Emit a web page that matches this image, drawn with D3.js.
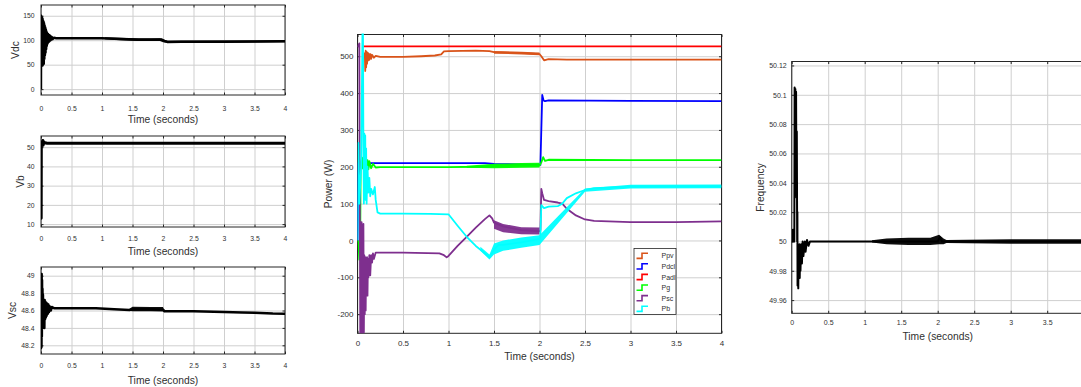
<!DOCTYPE html>
<html>
<head>
<meta charset="utf-8">
<script src="https://cdn.jsdelivr.net/npm/d3@7"></script>
<style>
  body { margin: 0; background: #fff; }
  svg { display: block; font-family: "Liberation Sans", Arial, Helvetica, sans-serif; }
</style>
</head>
<body>
<script>
// ---------- tick values and labels ----------
const timeTicks = [0, 0.5, 1, 1.5, 2, 2.5, 3, 3.5, 4];
const timeTickLabels = ["0", "0.5", "1", "1.5", "2", "2.5", "3", "3.5", "4"];
// the frequency axis runs past the right edge of the figure, so its last label is left out
const freqTimeTickLabels = ["0", "0.5", "1", "1.5", "2", "2.5", "3", "3.5", ""];
const vdcTicks = [0, 50, 100, 150];
const vbTicks = [10, 20, 30, 40, 50];
const vscTicks = [48.2, 48.4, 48.6, 48.8, 49];
const vscTickLabels = ["48.2", "48.4", "48.6", "48.8", "49"];
const powerTicks = [-200, -100, 0, 100, 200, 300, 400, 500];
const freqTicks = [49.96, 49.98, 50, 50.02, 50.04, 50.06, 50.08, 50.1, 50.12];
const freqTickLabels = ["49.96", "49.98", "50", "50.02", "50.04", "50.06", "50.08", "50.1", "50.12"];

// ---------- DC-link voltage (V) : [time s, value] ----------
const vdc = [[0,0],[0.002,150],[0.006,48],[0.010,148],[0.014,50],[0.018,146],[0.022,48],[0.026,144],
  [0.030,50],[0.034,140],[0.038,55],[0.042,138],[0.046,52],[0.050,135],[0.055,62],[0.060,130],
  [0.065,70],[0.070,126],[0.075,75],[0.080,122],[0.085,82],[0.090,118],[0.095,88],[0.100,115],
  [0.108,93],[0.116,113],[0.124,96],[0.132,111],[0.140,98],[0.150,109],[0.160,100],[0.175,107],
  [0.19,102],[0.21,105],[0.25,104],[0.5,104],[0.8,104],[1.0,104],[1.2,103],[1.4,102],[1.6,101],
  [1.8,101],[1.98,101.5],[2.03,98],[2.07,96.5],[2.3,97],[2.6,97],[3.0,97],[3.5,97.5],[4,98]];
// ripple envelope: [time, low, high]
const vdcRipple = [[1.05,102,106],[1.3,100,105],[1.6,98.5,104],[1.95,98.5,104],[2.0,96,102],
  [2.08,94.5,99],[3,94.8,99.2],[3.5,95.5,99.5],[4,95.8,100]];

// ---------- battery voltage (V) ----------
const vb = [[0,13],[0.003,13],[0.005,52],[0.02,52.5],[0.03,53.5],[0.035,51],[0.04,53],[0.05,52],
  [0.08,52.3],[0.1,52],[1,52],[2,52],[3,52],[4,52]];

// ---------- supercapacitor voltage (V) ----------
const vsc = [[0,48.6],[0.002,48.17],[0.005,49.0],[0.008,48.18],[0.011,49.02],[0.014,48.3],
  [0.017,48.95],[0.020,48.4],[0.024,48.85],[0.028,48.45],[0.032,48.78],[0.036,48.42],[0.040,48.72],
  [0.045,48.48],[0.050,48.70],[0.055,48.40],[0.060,48.72],[0.066,48.50],[0.072,48.70],[0.078,48.52],
  [0.085,48.69],[0.092,48.54],[0.100,48.68],[0.110,48.56],[0.120,48.67],[0.130,48.58],[0.140,48.65],
  [0.160,48.60],[0.180,48.64],[0.22,48.625],[0.5,48.625],[0.9,48.625],[1.2,48.615],[1.45,48.605],
  [1.5,48.615],[1.8,48.615],[2.0,48.61],[2.03,48.59],[2.5,48.59],[3.0,48.583],[3.3,48.578],
  [3.5,48.575],[3.8,48.565],[4,48.562]];
const vscRipple = [[1.45,48.597,48.62],[1.5,48.59,48.642],[1.8,48.59,48.64],[2.0,48.588,48.64],
  [2.02,48.575,48.6]];

// ---------- power flows (W) ----------
const ppv = [[0.08,510],[0.085,460],[0.09,515],[0.095,470],[0.10,512],[0.105,480],[0.11,510],
  [0.115,488],[0.12,508],[0.13,490],[0.14,506],[0.15,493],[0.16,504],[0.18,496],[0.2,501],
  [0.25,498],[0.5,498],[0.7,500],[0.85,502],[0.92,505],[0.95,513],[1.0,514],[1.3,515],[1.45,514],
  [1.5,511],[1.8,509],[2.0,506],[2.02,500],[2.05,489],[2.1,492],[2.3,491],[3,491],[4,491]];
const ppvRipple = [[1.5,507,514],[1.8,505,512],[2.0,503,510]];

const pdcl = [[0,0],[0.01,210],[0.2,210],[0.5,210],[1.0,210],[1.4,210],[1.5,208],[2.0,205],
  [2.01,205],[2.03,395],[2.045,380],[2.06,378],[2.1,380],[3,379],[4,378]];

const padl = [[0.05,527],[1,527],[2,527],[3,527],[4,527]];

const pg = [[0,0],[0.01,-5],[0.02,-52],[0.03,0],[0.035,210],[0.05,225],[0.06,195],[0.07,222],
  [0.08,188],[0.09,222],[0.1,190],[0.11,218],[0.12,193],[0.13,215],[0.15,196],[0.17,208],
  [0.2,198],[0.25,199],[0.5,199],[1.0,199],[1.3,200],[1.5,202],[1.8,203],[2.0,203],[2.02,212],
  [2.04,226],[2.06,216],[2.1,219],[3,218],[4,218]];
const pgRipple = [[1.2,197,203],[1.5,196,208],[1.8,197,210],[2.0,198,211]];

const psc = [[0,525],[0.02,535],[0.03,-255],[0.035,40],[0.04,-255],[0.045,50],[0.05,-255],
  [0.055,-20],[0.06,-255],[0.065,45],[0.07,-250],[0.075,-40],[0.08,-200],[0.085,-45],[0.09,-190],
  [0.095,-50],[0.1,-145],[0.105,-45],[0.11,-150],[0.115,-50],[0.12,-100],[0.13,-40],[0.14,-95],
  [0.15,-40],[0.16,-60],[0.17,-35],[0.18,-50],[0.2,-33],[0.5,-33],[0.9,-35],[0.95,-40],[0.98,-46],
  [1.0,-42],[1.1,-15],[1.2,10],[1.3,35],[1.4,58],[1.45,68],[1.48,60],[1.5,48],[1.6,38],[1.8,28],
  [2.0,25],[2.01,28],[2.02,140],[2.03,128],[2.05,110],[2.1,107],[2.2,103],[2.25,100],[2.3,86],
  [2.4,68],[2.5,57],[2.6,53],[3,50],[3.5,50],[4,52]];
const pscRipple = [[1.5,32,55],[1.6,22,45],[1.8,17,36],[2.0,16,35]];

const pb = [[0,0],[0.01,265],[0.02,100],[0.04,200],[0.055,580],[0.06,580],[0.065,260],[0.07,100],
  [0.075,290],[0.08,120],[0.085,285],[0.09,110],[0.095,250],[0.1,100],[0.11,200],[0.12,130],
  [0.13,170],[0.14,120],[0.15,140],[0.17,125],[0.19,145],[0.2,110],[0.22,76],[0.25,73],[0.5,73],
  [0.8,72],[1.0,71],[1.1,40],[1.2,10],[1.3,-15],[1.4,-35],[1.45,-46],[1.5,-25],[1.55,-12],
  [1.6,-12],[1.8,-5],[2.0,4],[2.01,10],[2.02,96],[2.05,88],[2.1,92],[2.2,93],[2.25,100],[2.3,115],
  [2.4,128],[2.5,137],[2.6,142],[3,146],[3.5,147],[4,147]];
const pbRipple = [[1.35,-28,-17],[1.45,-52,-38],[1.5,-38,-8],[1.6,-28,0],[1.8,-20,8],[2.0,-12,14],
  [2.5,132,141],[3,141,151],[4,142,152]];

const powerNames = ["Ppv", "Pdcl", "Padl", "Pg", "Psc", "Pb"];

// ---------- grid frequency (Hz) ----------
const freq = [[0,50],[0.015,50],[0.016,50.008],[0.035,50.008],[0.036,50.0],[0.04,50.105],
  [0.045,50.06],[0.05,50.104],[0.055,50.07],[0.06,50.102],[0.065,50.03],[0.07,50.075],[0.075,50.0],
  [0.078,50.02],[0.08,49.97],[0.085,49.99],[0.09,49.968],[0.095,49.995],[0.1,49.975],
  [0.105,49.998],[0.11,49.975],[0.115,49.995],[0.12,49.98],[0.13,49.998],[0.14,49.985],
  [0.15,50.0],[0.16,49.99],[0.18,50.0],[0.19,49.993],[0.21,50.001],[0.23,49.997],[0.25,50.0],
  [1.0,50.0],[2.0,50.0],[2.03,50.003],[2.06,50.0],[4,50.0]];
const freqRipple = [[1.1,49.9992,50.0008],[1.3,49.998,50.002],[1.6,49.9975,50.0025],
  [1.9,49.9975,50.0025],[2.02,49.998,50.0045],[2.08,49.998,50.002],[2.12,49.999,50.001],
  [2.4,49.9988,50.0012],[3,49.9985,50.0015],[4,49.9985,50.0015]];

// ---------- drawing ----------
const W = 1081, H = 387;
const svg = d3.select("body").append("svg").attr("width", W).attr("height", H);
const axisColor = "#262626", gridColor = "#cfcfcf", textColor = "#303030";

function drawPanel(p) {
  const g = svg.append("g");
  const x = d3.scaleLinear().domain([0, 4]).range([p.left, p.right]);
  const y = d3.scaleLinear().domain(p.yDomain).range([p.bottom, p.top]);
  const w = p.right - p.left, h = p.bottom - p.top;
  const xLabels = p.xLabels || timeTickLabels;

  // grid
  g.append("g").attr("transform", `translate(0,${p.bottom})`)
    .call(d3.axisBottom(x).tickValues(timeTicks).tickSize(-h).tickFormat(""))
    .call(s => { s.select(".domain").remove(); s.selectAll("line").attr("stroke", gridColor); });
  g.append("g").attr("transform", `translate(${p.left},0)`)
    .call(d3.axisLeft(y).tickValues(p.yTicks).tickSize(-w).tickFormat(""))
    .call(s => { s.select(".domain").remove(); s.selectAll("line").attr("stroke", gridColor); });

  // axes box
  g.append("rect").attr("x", p.left).attr("y", p.top).attr("width", w).attr("height", h)
    .attr("fill", "none").attr("stroke", axisColor).attr("stroke-width", 1);

  // ticks and labels
  const bottom = g.append("g").attr("transform", `translate(0,${p.bottom})`)
    .call(d3.axisBottom(x).tickValues(timeTicks).tickFormat((d, i) => xLabels[i])
      .tickSizeInner(-2.5).tickSizeOuter(0).tickPadding(p.xPad));
  const left = g.append("g").attr("transform", `translate(${p.left},0)`)
    .call(d3.axisLeft(y).tickValues(p.yTicks).tickFormat((d, i) => p.yLabels[i])
      .tickSizeInner(-2.5).tickSizeOuter(0).tickPadding(p.yPad));
  const top = g.append("g").attr("transform", `translate(0,${p.top})`)
    .call(d3.axisTop(x).tickValues(timeTicks).tickFormat("").tickSizeInner(-2.5).tickSizeOuter(0));
  const right = g.append("g").attr("transform", `translate(${p.right},0)`)
    .call(d3.axisRight(y).tickValues(p.yTicks).tickFormat("").tickSizeInner(-2.5).tickSizeOuter(0));
  [bottom, left, top, right].forEach(a => {
    a.select(".domain").remove();
    a.selectAll("line").attr("stroke", axisColor);
    a.selectAll("text").attr("fill", textColor).style("font-size", p.tickFont + "px")
      .style("font-family", "'Liberation Sans', Arial, sans-serif");
  });

  // data, clipped to the axes
  const clipId = "clip-" + p.id;
  svg.append("clipPath").attr("id", clipId).append("rect")
    .attr("x", p.left).attr("y", p.top - 1).attr("width", w).attr("height", h + 1);
  const plot = g.append("g").attr("clip-path", `url(#${clipId})`);
  const line = d3.line().x(d => x(d[0])).y(d => y(d[1]));
  const area = d3.area().x(d => x(d[0])).y0(d => y(d[1])).y1(d => y(d[2]));
  p.series.forEach(s => {
    if (s.ripple) {
      plot.append("path").datum(s.ripple).attr("d", area).attr("fill", s.color).attr("opacity", 0.95);
    }
    plot.append("path").datum(s.data).attr("d", line).attr("fill", "none")
      .attr("stroke", s.color).attr("stroke-width", s.width)
      .attr("stroke-linejoin", "round").attr("stroke-linecap", "butt");
  });

  // axis titles
  g.append("text").attr("x", (p.left + p.right) / 2).attr("y", p.xTitleY)
    .attr("text-anchor", "middle").attr("dominant-baseline", "central")
    .attr("fill", textColor).style("font-size", "10.3px").text("Time (seconds)");
  g.append("text").attr("transform", `translate(${p.yTitleX},${p.yTitleY}) rotate(-90)`)
    .attr("text-anchor", "middle").attr("dominant-baseline", "central")
    .attr("fill", textColor).style("font-size", "10.3px").text(p.yTitle);

  return { x, y };
}

drawPanel({
  id: "vdc", left: 41, right: 285, top: 5, bottom: 95, yDomain: [-12, 172],
  yTicks: vdcTicks, yLabels: vdcTicks.map(String), tickFont: 6.8, xPad: 11, yPad: 6.5,
  xTitleY: 119.5, yTitle: "Vdc", yTitleX: 15, yTitleY: 50,
  series: [{ data: vdc, ripple: vdcRipple, color: "#000", width: 2.4 }]
});
drawPanel({
  id: "vb", left: 41, right: 285, top: 136, bottom: 227, yDomain: [8.5, 55.8],
  yTicks: vbTicks, yLabels: vbTicks.map(String), tickFont: 6.8, xPad: 9, yPad: 6.5,
  xTitleY: 251, yTitle: "Vb", yTitleX: 20, yTitleY: 181.5,
  series: [{ data: vb, color: "#000", width: 3 }]
});
drawPanel({
  id: "vsc", left: 41, right: 285, top: 267, bottom: 354, yDomain: [48.1, 49.1],
  yTicks: vscTicks, yLabels: vscTickLabels, tickFont: 6.8, xPad: 9.5, yPad: 6.5,
  xTitleY: 380, yTitle: "Vsc", yTitleX: 12.5, yTitleY: 310.5,
  series: [{ data: vsc, ripple: vscRipple, color: "#000", width: 2.5 }]
});

const powerColors = ["#D95319", "#0000FF", "#FF0000", "#00FF00", "#7E2F8E", "#00FFFF"];
const powerData = [ppv, pdcl, padl, pg, psc, pb];
const powerRipples = [ppvRipple, null, null, pgRipple, pscRipple, pbRipple];
drawPanel({
  id: "power", left: 357.5, right: 721.5, top: 34.5, bottom: 333.3, yDomain: [-252, 559],
  yTicks: powerTicks, yLabels: powerTicks.map(String), tickFont: 8, xPad: 7, yPad: 4,
  xTitleY: 356, yTitle: "Power (W)", yTitleX: 328.5, yTitleY: 184,
  series: powerNames.map((n, i) => ({
    data: powerData[i], ripple: powerRipples[i], color: powerColors[i], width: 1.8
  }))
});

// legend
(function () {
  const lx = 634, ly = 248.5, lw = 42, lh = 66, rowH = 10.6;
  const lg = svg.append("g");
  lg.append("rect").attr("x", lx).attr("y", ly).attr("width", lw).attr("height", lh)
    .attr("fill", "#fff").attr("stroke", axisColor).attr("stroke-width", 0.8);
  powerNames.forEach((n, i) => {
    const cy = ly + 7.3 + i * rowH;
    lg.append("path")
      .attr("d", `M${lx + 2.5},${cy + 2.6}H${lx + 8}V${cy - 2.6}H${lx + 14}`)
      .attr("fill", "none").attr("stroke", powerColors[i]).attr("stroke-width", 1.6);
    lg.append("text").attr("x", lx + 27.5).attr("y", cy).attr("dominant-baseline", "central")
      .attr("fill", textColor).style("font-size", "7px").text(n);
  });
})();

drawPanel({
  id: "freq", left: 791.7, right: 1083.7, top: 61.5, bottom: 313.3, yDomain: [49.951, 50.1227],
  yTicks: freqTicks, yLabels: freqTickLabels, xLabels: freqTimeTickLabels, tickFont: 7, xPad: 7, yPad: 5,
  xTitleY: 336.2, yTitle: "Frequency", yTitleX: 760, yTitleY: 187.5,
  series: [{ data: freq, ripple: freqRipple, color: "#000", width: 2 }]
});
</script>
</body>
</html>
